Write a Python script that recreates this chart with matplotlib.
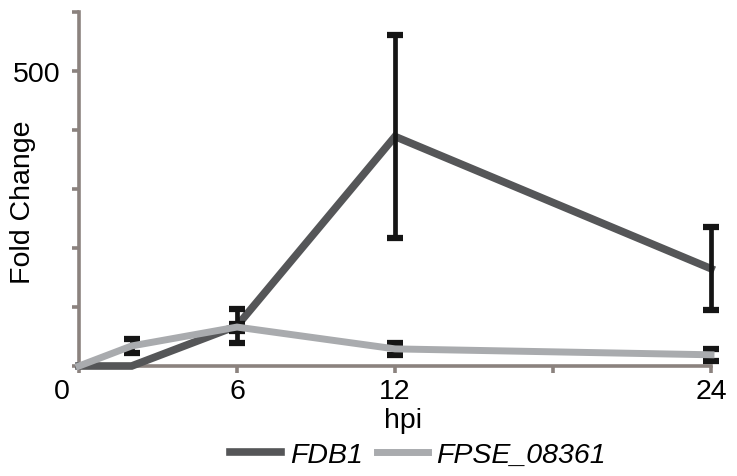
import matplotlib
matplotlib.use("Agg")
import matplotlib.pyplot as plt
from matplotlib.transforms import ScaledTranslation

plt.rcParams["font.family"] = ["Liberation Sans", "DejaVu Sans"]

hpi = [0, 2, 6, 12, 24]
fdb1 = [0, 0, 68, 389, 165]
fdb1_err = [0, 0, 29, 172, 70]
fpse = [0, 34, 66, 29, 19]
fpse_err = [0, 12, 6, 10, 10]

x_ticks = [0, 6, 12, 18, 24]
x_labels = ["0", "6", "12", "", "24"]
y_ticks = [0, 100, 200, 300, 400, 500, 600]
y_labels = ["", "", "", "", "", "500", ""]

dark = "#555658"
light = "#a9abae"
axis_col = "#8b827e"
fs = 20.5

fig = plt.figure(figsize=[7.37, 4.77], dpi=100)
ax = fig.add_axes([79 / 737, 1 - 367 / 477, (711 - 79) / 737, (367 - 13) / 477])

ax.plot(hpi, fdb1, color=dark, linewidth=5.5, solid_joinstyle="miter",
        label="FDB1", clip_on=False, zorder=3)
ax.errorbar(hpi[2:], fdb1[2:], yerr=fdb1_err[2:], fmt="none", ecolor="#151515",
            elinewidth=3.4, capsize=5.5, capthick=4.5, clip_on=False, zorder=4)
ax.errorbar(hpi[1:], fpse[1:], yerr=fpse_err[1:], fmt="none", ecolor="#151515",
            elinewidth=3.4, capsize=5.5, capthick=4.5, clip_on=False, zorder=5)
ax.plot(hpi, fpse, color=light, linewidth=5, solid_joinstyle="miter",
        label="FPSE_08361", clip_on=False, zorder=6)

ax.set_xlim(0, 24)
ax.set_ylim(0, 600)
ax.set_xticks(x_ticks)
ax.set_xticklabels(x_labels)
ax.set_yticks(y_ticks)
ax.set_yticklabels(y_labels)

for side in ["top", "right"]:
    ax.spines[side].set_visible(False)
for side in ["left", "bottom"]:
    ax.spines[side].set_color(axis_col)
    ax.spines[side].set_linewidth(2.6)
ax.tick_params(axis="both", colors=axis_col, width=2.6, length=5,
               labelsize=fs, labelcolor="black")
ax.tick_params(axis="y", pad=8)
ax.tick_params(axis="x", pad=4)

# the "0" sits left of the corner
zero = ax.get_xticklabels()[0]
zero.set_transform(zero.get_transform() + ScaledTranslation(-17 / 100, 0, fig.dpi_scale_trans))

fig.text(23 / 737, 1 - 202 / 477, "Fold Change", rotation=90, fontsize=fs,
         ha="center", va="center")
fig.text(403 / 737, 1 - 421 / 477, "hpi", fontsize=fs, ha="center", va="center")

leg = fig.legend(loc="center", bbox_to_anchor=(418 / 737, 1 - 456 / 477), ncol=2,
                 frameon=False, handlelength=1.8, handletextpad=0.3,
                 columnspacing=0.5, prop={"style": "italic", "size": fs})

fig.savefig("out.png", dpi=100)
